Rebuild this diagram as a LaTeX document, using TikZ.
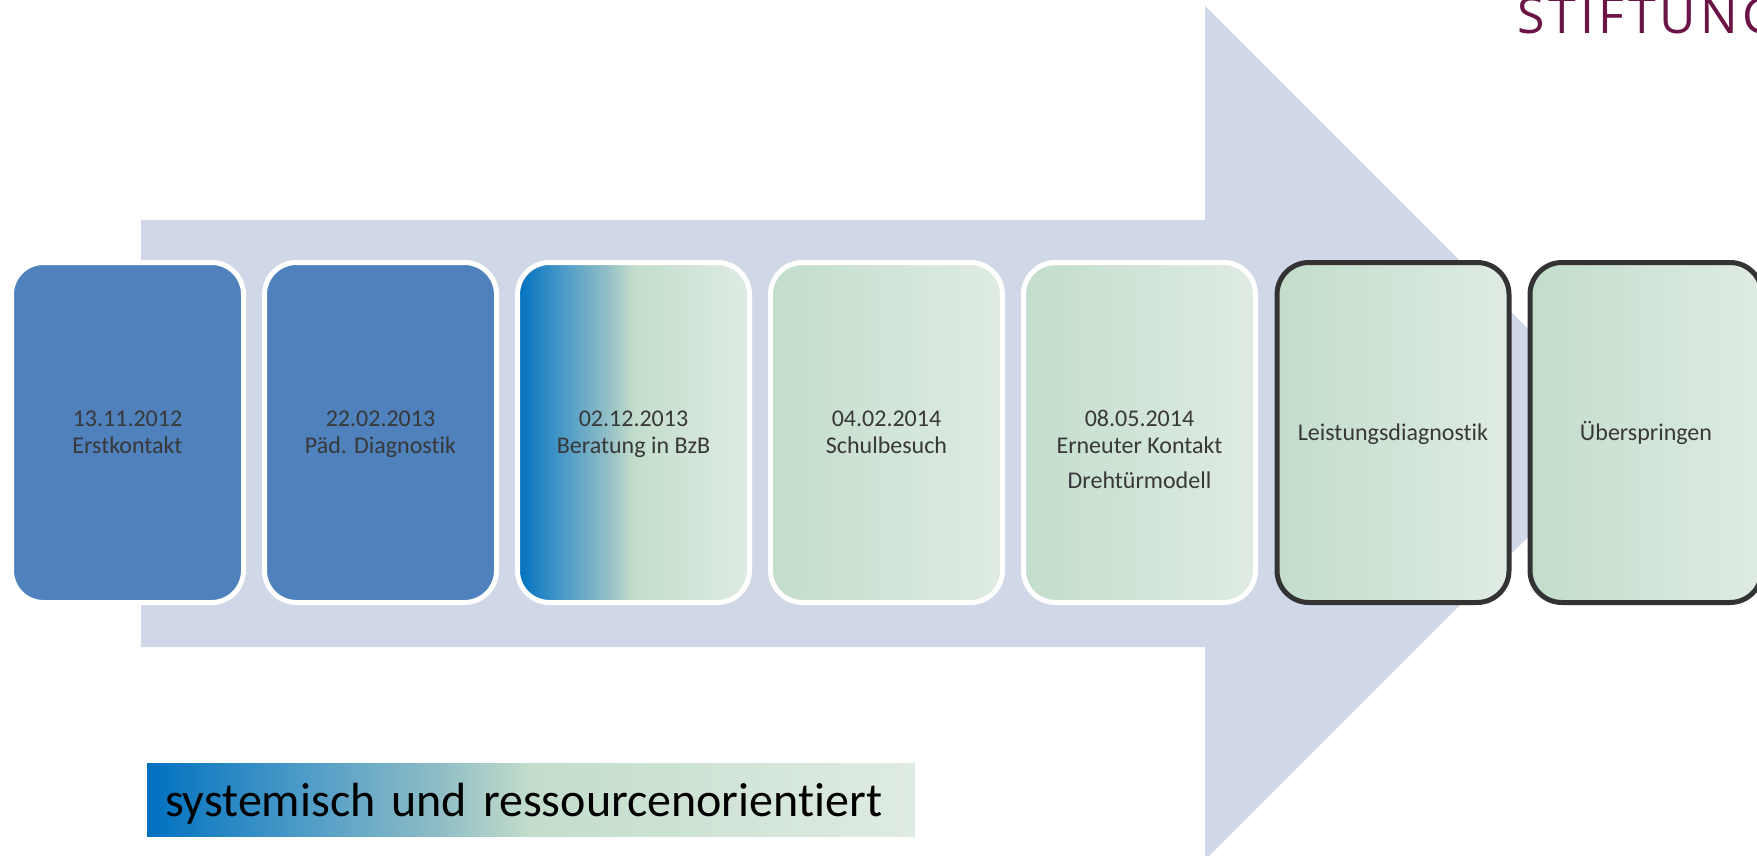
\documentclass[tikz,border=0pt]{standalone}
\usepackage{fontspec}
\setmainfont{Carlito}[Ligatures=NoCommon]
\newfontfamily\stiftfont[LetterSpace=8]{Open Sans}

\definecolor{arrowfill}{HTML}{D0D8E8}
\definecolor{phaseblue}{HTML}{4F81BD}
\definecolor{deepblue}{HTML}{0070C0}
\definecolor{midblue}{HTML}{4C9BC7}
\definecolor{paleblue}{HTML}{8FBDC6}
\definecolor{sage}{HTML}{C3DDCB}
\definecolor{mint}{HTML}{DFEBE3}
\definecolor{phasetext}{HTML}{383838}
\definecolor{openframe}{HTML}{333333}
\definecolor{stiftcolor}{HTML}{6B1446}

\pgfdeclarehorizontalshading{bluegreen}{100bp}{color(0bp)=(deepblue); color(25bp)=(deepblue); color(35bp)=(midblue); color(44bp)=(paleblue); color(50bp)=(sage); color(75bp)=(mint); color(100bp)=(mint)}

% first line strut of a phase text
\newcommand{\phasestrut}{\rule{0pt}{12pt}}

\tikzstyle{phase}=[rectangle, rounded corners=16pt, line width=2.5pt,
                   minimum width=116pt, minimum height=170pt, inner sep=0pt,
                   align=center, text=phasetext,
                   font=\fontsize{12pt}{13.5pt}\selectfont]
\tikzstyle{bluephase}=[phase, draw=white, fill=phaseblue]
\tikzstyle{mixphase}=[phase, draw=white, shade, shading=bluegreen]
\tikzstyle{greenphase}=[phase, draw=white, left color=sage, right color=mint]
\tikzstyle{openphase}=[phase, draw=openframe, left color=sage, right color=mint]
\tikzstyle{motto}=[rectangle, minimum width=384pt, minimum height=36.5pt,
                   inner xsep=9pt, inner ysep=0pt, text width=366pt, align=left,
                   shade, shading=bluegreen, text=black,
                   font=\fontsize{24pt}{28.8pt}\selectfont]

\begin{document}
\begin{tikzpicture}[x=0.5pt, y=-0.5pt]

  \useasboundingbox (0, 0) rectangle (1757, 856);
  \clip (0, 0) rectangle (1757, 856);

  %%%%%%%%%%%%%%%%%%%%%%%%%%%%%%
  % background arrow
  \fill[arrowfill] (141, 220) -- (1205, 220) -- (1205, 6) -- (1632, 433)
                   -- (1205, 860) -- (1205, 647) -- (141, 647) -- cycle;

  %%%%%%%%%%%%%%%%%%%%%%%%%%%%%%
  % phases
  % done
  \node (erst) at (127.5, 432.5) [bluephase] {\phasestrut 13.11.2012\\Erstkontakt\strut};

  \node (paed) at (380.5, 432.5) [bluephase] {\phasestrut 22.02.2013\\Päd. Diagnostik\strut};

  \node (bzb) at (633.5, 432.5) [mixphase] {\phasestrut 02.12.2013\\Beratung in BzB\strut};

  \node (schule) at (886.5, 432.5) [greenphase] {\phasestrut 04.02.2014\\Schulbesuch\strut};

  \node (kontakt) at (1139.5, 432.5) [greenphase] {\rule{0pt}{29.45pt}08.05.2014\\Erneuter Kontakt\\[4pt]Drehtürmodell\strut};

  % open
  \node (leistung) at (1393, 432.5) [openphase] {\phasestrut Leistungsdiagnostik\strut};

  \node (spring) at (1646, 432.5) [openphase] {\phasestrut Überspringen\strut};

  %%%%%%%%%%%%%%%%%%%%%%%%%%%%%%
  % motto
  \node (leitsatz) at (531, 799.5) [motto] {\rule[-5.5pt]{0pt}{27.5pt}systemisch und ressourcenorientiert};

  % logo text
  \node (stift) at (1517, 34) [anchor=base west, inner sep=0pt, text=stiftcolor,
        font=\stiftfont\fontsize{25pt}{29pt}\selectfont] {STIFTUNG};

\end{tikzpicture}
\end{document}
